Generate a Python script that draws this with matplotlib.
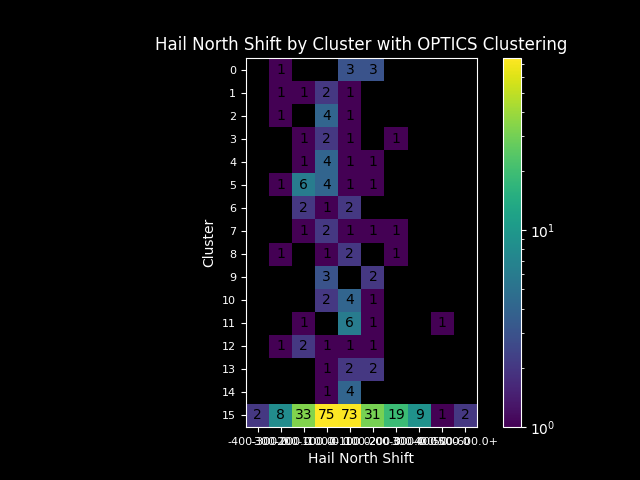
import numpy as np
import matplotlib.pyplot as plt
from matplotlib.colors import LogNorm

plt.style.use('dark_background')

clusters = list(range(16))
bins = ['-400-300.0', '-300-200.0', '-200-100.0', '-100-0.0', '0-100.0',
        '100-200.0', '200-300.0', '300-400.0', '400-500.0', '500-600.0+']
counts = np.array([
    [0, 1, 0, 0, 3, 3, 0, 0, 0, 0],
    [0, 1, 1, 2, 1, 0, 0, 0, 0, 0],
    [0, 1, 0, 4, 1, 0, 0, 0, 0, 0],
    [0, 0, 1, 2, 1, 0, 1, 0, 0, 0],
    [0, 0, 1, 4, 1, 1, 0, 0, 0, 0],
    [0, 1, 6, 4, 1, 1, 0, 0, 0, 0],
    [0, 0, 2, 1, 2, 0, 0, 0, 0, 0],
    [0, 0, 1, 2, 1, 1, 1, 0, 0, 0],
    [0, 1, 0, 1, 2, 0, 1, 0, 0, 0],
    [0, 0, 0, 3, 0, 2, 0, 0, 0, 0],
    [0, 0, 0, 2, 4, 1, 0, 0, 0, 0],
    [0, 0, 1, 0, 6, 1, 0, 0, 1, 0],
    [0, 1, 2, 1, 1, 1, 0, 0, 0, 0],
    [0, 0, 0, 1, 2, 2, 0, 0, 0, 0],
    [0, 0, 0, 1, 4, 0, 0, 0, 0, 0],
    [2, 8, 33, 75, 73, 31, 19, 9, 1, 2],
])

fig = plt.figure(figsize=(6.4, 4.8), dpi=100)
ax = fig.add_axes([246 / 640, 53 / 480, 230.8 / 640, 369 / 480])
cax = fig.add_axes([502.7 / 640, 53 / 480, 18 / 640, 369 / 480])

masked = np.ma.masked_equal(counts, 0)
im = ax.pcolormesh(masked, cmap='viridis', norm=LogNorm(vmin=1, vmax=counts.max()))
ax.invert_yaxis()
for i in range(counts.shape[0]):
    for j in range(counts.shape[1]):
        if counts[i, j] > 0:
            ax.text(j + 0.5, i + 0.5, str(counts[i, j]), ha='center', va='center', color='black', fontsize=10)

ax.set_xticks(np.arange(len(bins)) + 0.5)
ax.set_xticklabels(bins, fontsize=8)
ax.set_yticks(np.arange(len(clusters)) + 0.5)
ax.set_yticklabels(clusters, fontsize=8)
ax.set_xlabel('Hail North Shift')
ax.set_ylabel('Cluster')
ax.set_title('Hail North Shift by Cluster with OPTICS Clustering')

fig.colorbar(im, cax=cax)

fig.savefig('out.png', dpi=100)
